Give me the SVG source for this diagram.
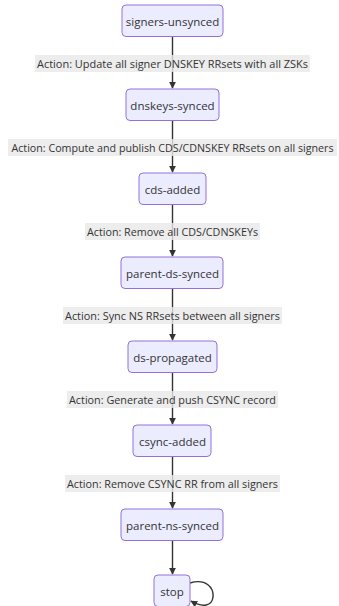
<svg xmlns="http://www.w3.org/2000/svg" width="339" height="606" viewBox="0 0 339 606">
<style>
.node rect{fill:#ECECFF;stroke:#9370DB;stroke-width:1;}
.node text,.lbl text{font-family:"Open Sans","Liberation Sans",sans-serif;font-size:11.5px;fill:#333;text-anchor:middle;dominant-baseline:central;}
.lbl text{font-size:11px;}
.lbl text.tight{font-size:10.5px;}
.lbl rect{fill:#e8e8e8;opacity:0.8;}
.edges path{fill:none;stroke:#333;stroke-width:1.4;}
</style>
<defs>
<marker id="arr" viewBox="0 0 10 10" refX="9" refY="5" markerWidth="7" markerHeight="7" markerUnits="userSpaceOnUse" orient="auto">
<path d="M0,0 L10,5 L0,10 z" fill="#333"/>
</marker>
</defs>
<rect width="339" height="606" fill="#ffffff"/>
<g class="edges">
<path d="M172.5,36 V88" marker-end="url(#arr)"/>
<path d="M172.5,120 V172" marker-end="url(#arr)"/>
<path d="M172.5,204 V256" marker-end="url(#arr)"/>
<path d="M172.5,288 V340" marker-end="url(#arr)"/>
<path d="M172.5,372 V424" marker-end="url(#arr)"/>
<path d="M172.5,456 V508" marker-end="url(#arr)"/>
<path d="M172.5,540 V574" marker-end="url(#arr)"/>
<path d="M190,583 C206,578 214,588 213,597 C212,606 203,608 191,601" marker-end="url(#arr)"/>
</g>
<g class="lbl" id="label1"><rect x="35" y="55" width="275" height="17"/><text x="172.5" y="63.5" textLength="271" lengthAdjust="spacingAndGlyphs">Action: Update all signer DNSKEY RRsets with all ZSKs</text></g>
<g class="lbl" id="label2"><rect x="8" y="139" width="329" height="17"/><text class="tight" x="172.5" y="147.5" textLength="322" lengthAdjust="spacingAndGlyphs">Action: Compute and publish CDS/CDNSKEY RRsets on all signers</text></g>
<g class="lbl" id="label3"><rect x="85" y="223" width="175" height="17"/><text x="172.5" y="231.5" textLength="171" lengthAdjust="spacingAndGlyphs">Action: Remove all CDS/CDNSKEYs</text></g>
<g class="lbl" id="label4"><rect x="63" y="307" width="219" height="17"/><text x="172.5" y="315.5" textLength="215" lengthAdjust="spacingAndGlyphs">Action: Sync NS RRsets between all signers</text></g>
<g class="lbl" id="label5"><rect x="67" y="391" width="211" height="17"/><text x="172.5" y="399.5" textLength="207" lengthAdjust="spacingAndGlyphs">Action: Generate and push CSYNC record</text></g>
<g class="lbl" id="label6"><rect x="65" y="475" width="215" height="17"/><text x="172.5" y="483.5" textLength="211" lengthAdjust="spacingAndGlyphs">Action: Remove CSYNC RR from all signers</text></g>
<g class="node" id="signers-unsynced"><rect x="122" y="5" width="101" height="31.5" rx="4"/><text x="172.5" y="21">signers-unsynced</text></g>
<g class="node" id="dnskeys-synced"><rect x="126" y="89" width="93" height="31.5" rx="4"/><text x="172.5" y="105">dnskeys-synced</text></g>
<g class="node" id="cds-added"><rect x="139" y="173" width="67" height="31.5" rx="4"/><text x="172.5" y="189">cds-added</text></g>
<g class="node" id="parent-ds-synced"><rect x="121" y="257" width="102" height="31.5" rx="4"/><text x="172.5" y="273">parent-ds-synced</text></g>
<g class="node" id="ds-propagated"><rect x="128" y="341" width="89" height="31.5" rx="4"/><text x="172.5" y="357">ds-propagated</text></g>
<g class="node" id="csync-added"><rect x="133" y="425" width="78" height="31.5" rx="4"/><text x="172.5" y="441">csync-added</text></g>
<g class="node" id="parent-ns-synced"><rect x="121" y="509" width="102" height="31.5" rx="4"/><text x="172.5" y="525">parent-ns-synced</text></g>
<g class="node" id="stop"><rect x="154" y="575" width="36" height="31.5" rx="4"/><text x="172" y="591">stop</text></g>
</svg>
